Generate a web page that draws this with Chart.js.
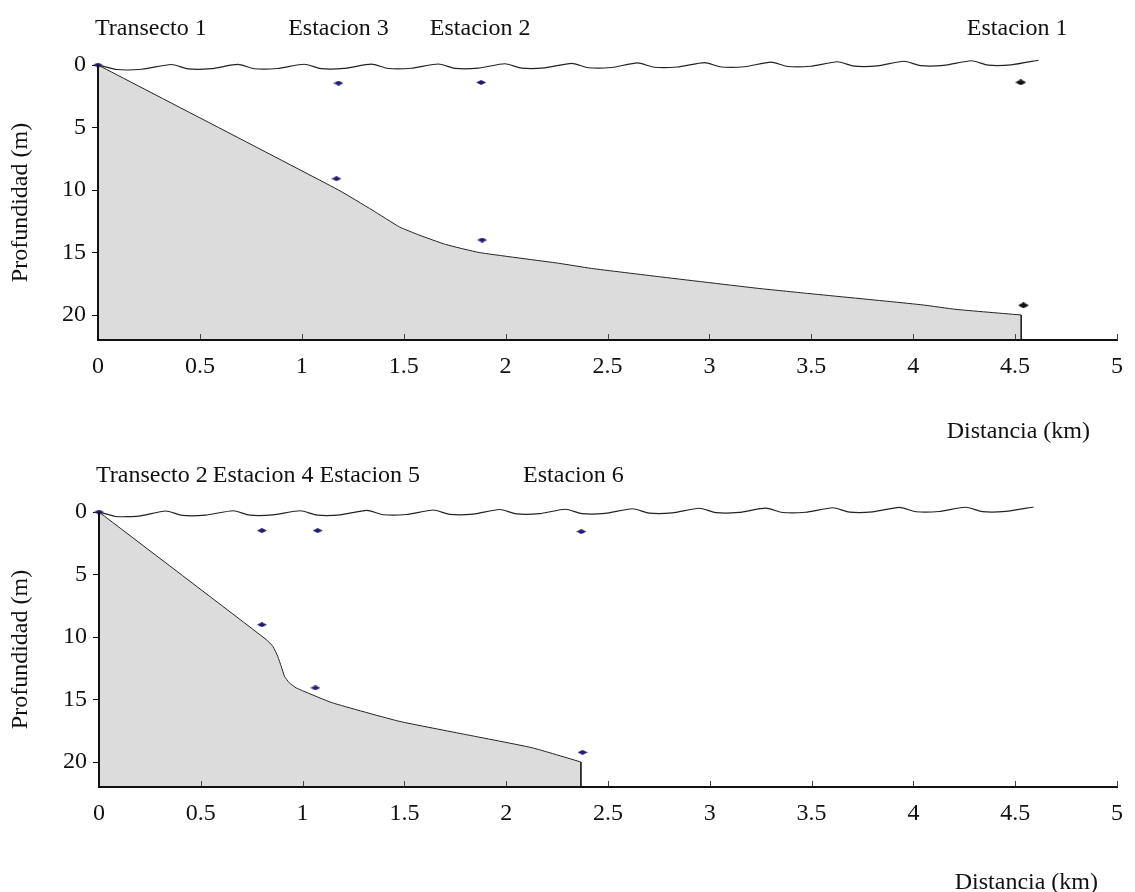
<!DOCTYPE html>
<html>
<head>
<meta charset="utf-8">
<script src="https://cdn.jsdelivr.net/npm/chart.js@4.4.1/dist/chart.umd.min.js"></script>
<style>
  body { margin: 0; background: #fff; }
  #wrap { position: relative; width: 1135px; height: 892px; }
  canvas { position: absolute; left: 0; }
  #top { top: 0; }
  #bottom { top: 447px; }
</style>
</head>
<body>
<div id="wrap">
  <canvas id="top" width="1135" height="446"></canvas>
  <canvas id="bottom" width="1135" height="445"></canvas>
</div>
<script>
/* ---------- data (km, m) ---------- */
const xTicks = [0, 0.5, 1, 1.5, 2, 2.5, 3, 3.5, 4, 4.5, 5];
const yTicks = [0, 5, 10, 15, 20];
const maxDepth = 22;

// Transecto 1
const t1BottomX = [0, 1.18, 1.345, 1.48, 1.575, 1.705, 1.87, 2.26, 2.42, 2.75, 3.24, 3.48, 3.89, 4.05, 4.21, 4.53];
const t1BottomDepth = [0, 10.0, 11.6, 12.96, 13.6, 14.35, 15.0, 15.86, 16.27, 16.93, 17.87, 18.27, 18.93, 19.2, 19.55, 20.0];
const t1StationX = [0, 1.18, 1.17, 1.88, 1.885];
const t1StationDepth = [0, 1.45, 9.1, 1.4, 14.0];
const t1DarkX = [4.528, 4.541];
const t1DarkDepth = [1.39, 19.23];
const t1SurfaceX = [0, 0.09, 0.216, 0.36, 0.442, 0.556, 0.686, 0.768, 0.882, 1.012, 1.094, 1.208, 1.342,
  1.424, 1.538, 1.670, 1.752, 1.866, 1.996, 2.078, 2.192, 2.324, 2.406, 2.520, 2.647, 2.729, 2.843, 2.976,
  3.058, 3.172, 3.302, 3.384, 3.498, 3.628, 3.710, 3.824, 3.954, 4.036, 4.150, 4.285, 4.367, 4.481, 4.615];
const t1SurfaceDepth = [0, 0.36, 0.34, -0.04, 0.31, 0.29, -0.05, 0.30, 0.28, -0.06, 0.29, 0.27, -0.07,
  0.28, 0.26, -0.08, 0.27, 0.25, -0.10, 0.25, 0.23, -0.13, 0.22, 0.20, -0.17, 0.18, 0.16, -0.19,
  0.16, 0.14, -0.23, 0.12, 0.10, -0.26, 0.09, 0.07, -0.30, 0.05, 0.03, -0.34, 0.01, -0.01, -0.38];
const t1Labels = ["Estacion 3", "Estacion 2", "Estacion 1"];
const t1LabelX = [1.18, 1.875, 4.51];

// Transecto 2
const t2BottomX = [0, 0.821, 0.854, 0.878, 0.895, 0.911, 0.935, 0.968, 1.0, 1.147, 1.474, 1.80, 2.127, 2.367];
const t2BottomDepth = [0, 10.2, 10.75, 11.55, 12.35, 13.14, 13.67, 14.07, 14.3, 15.27, 16.74, 17.8, 18.86, 20.0];
const t2StationX = [0, 0.80, 0.80, 1.074, 1.063, 2.369, 2.375];
const t2StationDepth = [0, 1.49, 9.02, 1.49, 14.07, 1.57, 19.23];
const t2SurfaceX = [0, 0.082, 0.196, 0.327, 0.409, 0.523, 0.658, 0.740, 0.854, 0.989, 1.071, 1.185, 1.315,
  1.397, 1.511, 1.641, 1.723, 1.837, 1.968, 2.050, 2.164, 2.290, 2.372, 2.486, 2.620, 2.702, 2.816, 2.948,
  3.030, 3.144, 3.275, 3.357, 3.471, 3.604, 3.686, 3.800, 3.931, 4.013, 4.127, 4.257, 4.339, 4.453, 4.590];
const t2SurfaceDepth = [0, 0.36, 0.33, -0.08, 0.27, 0.25, -0.10, 0.25, 0.23, -0.10, 0.25, 0.23, -0.13,
  0.22, 0.20, -0.16, 0.19, 0.17, -0.20, 0.15, 0.13, -0.22, 0.13, 0.11, -0.26, 0.09, 0.07, -0.30,
  0.05, 0.03, -0.31, 0.04, 0.02, -0.34, 0.01, -0.01, -0.37, -0.02, -0.04, -0.38, -0.03, -0.05, -0.40];
const t2Labels = ["Estacion 4", "Estacion 5", "Estacion 6"];
const t2LabelX = [0.806, 1.33, 2.33];

/* ---------- helpers ---------- */
const FONT = '"Liberation Serif", "Times New Roman", serif';
Chart.defaults.font.family = FONT;
Chart.defaults.font.size = 24;
Chart.defaults.color = "#111";

function pts(xs, ys) {
  return xs.map((x, i) => ({ x: x, y: ys[i] }));
}

function diamond(w, h, color) {
  const c = document.createElement("canvas");
  c.width = w; c.height = h;
  const g = c.getContext("2d");
  g.fillStyle = color;
  g.beginPath();
  g.moveTo(0, h / 2); g.lineTo(w / 2, 0); g.lineTo(w, h / 2); g.lineTo(w / 2, h);
  g.closePath(); g.fill();
  return c;
}
const navyMark = diamond(10, 5, "#221c6e");
const darkMark = diamond(11, 6, "#111111");

// axis lines on top of the fill, inner x ticks, labels over the panel, axis title
const annotate = {
  id: "annotate",
  afterDatasetsDraw(chart) {
    const ctx = chart.ctx, x = chart.scales.x, a = chart.chartArea;
    ctx.save();
    ctx.strokeStyle = "#444";
    ctx.lineWidth = 1;
    xTicks.forEach(v => {
      if (v === 0) return;
      const px = Math.round(x.getPixelForValue(v)) + 0.5;
      ctx.beginPath();
      ctx.moveTo(px, a.bottom);
      ctx.lineTo(px, a.bottom - 6);
      ctx.stroke();
    });
    ctx.strokeStyle = "#111";
    ctx.lineWidth = 2;
    ctx.beginPath();
    ctx.moveTo(a.left, a.top);
    ctx.lineTo(a.left, a.bottom);
    ctx.lineTo(a.right, a.bottom);
    ctx.stroke();
    ctx.restore();
  },
  afterDraw(chart, args, o) {
    const ctx = chart.ctx, x = chart.scales.x, area = chart.chartArea;
    ctx.save();
    ctx.fillStyle = "#111";
    ctx.font = "24px " + FONT;
    ctx.textBaseline = "alphabetic";
    ctx.textAlign = "left";
    ctx.fillText(o.title, area.left - 3, 35);
    ctx.textAlign = "center";
    o.labels.forEach((t, i) => ctx.fillText(t, x.getPixelForValue(o.labelX[i]), 35));
    ctx.textAlign = "right";
    ctx.textBaseline = "middle";
    ctx.fillText("Distancia (km)", o.axisRight, o.axisY);
    ctx.restore();
  }
};

function makeChart(id, s) {
  const canvas = document.getElementById(id);
  const H = canvas.height;
  const endX = s.bx[s.bx.length - 1];
  const endDepth = s.bd[s.bd.length - 1];
  return new Chart(canvas, {
    type: "scatter",
    data: {
      datasets: [
        {
          data: pts(s.bx, s.bd),
          showLine: true,
          borderColor: "#222",
          borderWidth: 1,
          backgroundColor: "#dcdcdc",
          fill: { value: maxDepth },
          pointRadius: 0,
          tension: 0.15,
          order: 4
        },
        {
          // vertical edge of the profile
          data: pts([endX, endX], [endDepth, maxDepth]),
          showLine: true,
          borderColor: "#222",
          borderWidth: 1,
          pointRadius: 0,
          fill: false,
          order: 3
        },
        {
          data: pts(s.wx, s.wd),
          showLine: true,
          borderColor: "#222",
          borderWidth: 1.2,
          pointRadius: 0,
          tension: 0.2,
          fill: false,
          clip: false,
          order: 2
        },
        {
          data: pts(s.sx, s.sd),
          pointStyle: navyMark,
          pointRadius: 5,
          clip: false,
          order: 1
        },
        {
          data: pts(s.dx, s.dd),
          pointStyle: darkMark,
          pointRadius: 5,
          clip: false,
          order: 1
        }
      ]
    },
    options: {
      responsive: false,
      animation: false,
      events: [],
      layout: { padding: { top: 65, right: 1135 - s.right, left: 0, bottom: 0 } },
      plugins: {
        legend: { display: false },
        tooltip: { enabled: false },
        annotate: { title: s.title, labels: s.labels, labelX: s.labelX, axisRight: s.axisRight, axisY: s.axisY }
      },
      scales: {
        x: {
          type: "linear",
          min: 0,
          max: 5,
          afterBuildTicks: sc => { sc.ticks = xTicks.map(v => ({ value: v })); },
          afterFit: sc => { sc.height = H - 340; },
          ticks: { padding: 12, maxRotation: 0, autoSkip: false, color: "#111", callback: v => String(v) },
          grid: { display: false, drawTicks: false },
          border: { display: true, color: "#111", width: 2 }
        },
        y: {
          type: "linear",
          reverse: true,
          min: 0,
          max: maxDepth,
          afterBuildTicks: sc => { sc.ticks = yTicks.map(v => ({ value: v })); },
          afterFit: sc => { sc.width = s.left; },
          ticks: { padding: 6, color: "#111", callback: v => String(v) },
          grid: { drawOnChartArea: false, drawTicks: true, tickLength: 6, color: "#111", lineWidth: 1 },
          border: { display: true, color: "#111", width: 2 },
          title: { display: true, text: "Profundidad (m)", padding: { top: 6, bottom: 0 }, color: "#111" }
        }
      }
    },
    plugins: [annotate]
  });
}

makeChart("top", {
  bx: t1BottomX, bd: t1BottomDepth,
  wx: t1SurfaceX, wd: t1SurfaceDepth,
  sx: t1StationX, sd: t1StationDepth,
  dx: t1DarkX, dd: t1DarkDepth,
  title: "Transecto 1", labels: t1Labels, labelX: t1LabelX,
  left: 98, right: 1120, axisRight: 1090, axisY: 432
});

makeChart("bottom", {
  bx: t2BottomX, bd: t2BottomDepth,
  wx: t2SurfaceX, wd: t2SurfaceDepth,
  sx: t2StationX, sd: t2StationDepth,
  dx: [], dd: [],
  title: "Transecto 2", labels: t2Labels, labelX: t2LabelX,
  left: 99, right: 1120, axisRight: 1098, axisY: 436
});
</script>
</body>
</html>
